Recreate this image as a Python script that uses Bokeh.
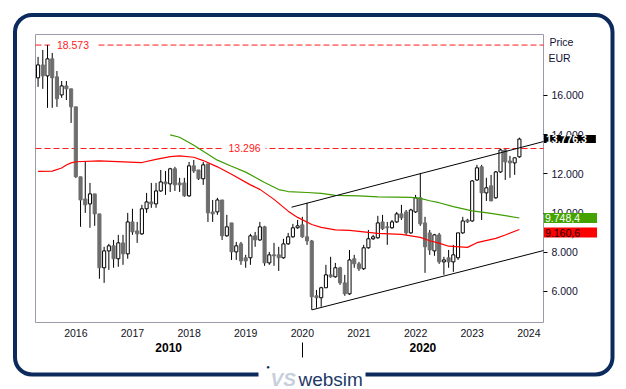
import pandas as pd
from bokeh.plotting import figure
from bokeh.models import (ColumnDataSource, FixedTicker, LinearAxis, Label,
                          BoxAnnotation, Range1d)
from bokeh.embed import file_html
from bokeh.resources import INLINE

# ---------------- data (monthly candles, EUR) ----------------
start_month = "2015-05"
opens = [16900, 17560, 17000, 17870, 16950, 16030, 16490, 16340, 15420, 11850,
         10720, 10470, 10980, 9960, 7210, 8070, 8330, 7670, 8480, 7920,
         9550, 9090, 8940, 10220, 10570, 10470, 11130, 11590, 11490, 12260,
         11540, 11540, 10880, 12410, 12200, 11750, 12510, 10060, 10060, 10670,
         8840, 9500, 8020, 8430, 7720, 7720, 8840, 8630, 9300, 7460,
         7870, 7870, 7720, 8430, 8790, 9250, 9400, 8790, 8580, 5780,
         5680, 6190, 6850, 6750, 7210, 6440, 5880, 7670, 7410, 7160,
         8230, 8690, 8740, 9550, 9300, 9250, 9550, 9960, 10060, 8990,
         10060, 10780, 9500, 8990, 8070, 8890, 7510, 7720, 7510, 7720,
         8990, 9650, 9600, 11690, 12360, 11030, 11390, 10780, 12100, 13220,
         12660, 12560, 12870]
highs = [17970, 18320, 18573, 18170, 17250, 16740, 16740, 16340, 15420, 11850,
         12610, 11540, 10980, 9960, 8280, 8430, 8630, 8890, 8890, 10010,
         10220, 9550, 10420, 11030, 11540, 11540, 12200, 12150, 12310, 12360,
         11800, 11800, 12610, 12710, 12200, 12610, 12510, 10670, 10780, 10670,
         9910, 9500, 8530, 8530, 7870, 8940, 9040, 9550, 9350, 8020,
         8480, 8280, 8690, 8990, 9450, 9650, 9810, 10520, 8630, 6080,
         6240, 7360, 7770, 7460, 7260, 6850, 8120, 7870, 7510, 8380,
         9140, 8890, 9860, 9910, 9550, 9650, 10060, 10420, 10160, 10220,
         10930, 12050, 9810, 9140, 8940, 8990, 7770, 8120, 8380, 8990,
         9810, 9710, 11690, 12460, 12460, 11800, 11950, 12150, 13280, 13280,
         12920, 12820, 13850]
lows = [16440, 16340, 15370, 15370, 15420, 15880, 15770, 14600, 11800, 9300,
        10010, 9250, 9350, 6650, 6440, 7100, 7210, 7260, 7360, 7670,
        8890, 8480, 8890, 10010, 10270, 10270, 11080, 10930, 11080, 11130,
        11080, 10830, 10830, 12050, 11690, 11440, 9550, 9550, 9910, 8630,
        8790, 7610, 7610, 7360, 7210, 7360, 8280, 8580, 7310, 7360,
        7310, 7050, 7670, 8380, 8740, 9200, 8740, 8380, 5064, 5170,
        5220, 6190, 6700, 6700, 6340, 5780, 5830, 7210, 7050, 7100,
        8180, 8630, 8690, 9140, 8380, 9200, 9500, 9650, 8890, 8940,
        10010, 9350, 6950, 7870, 7820, 7410, 6850, 7210, 7000, 7610,
        8940, 9500, 9550, 11640, 9650, 10620, 10620, 10730, 12050, 11690,
        11800, 11950, 12820]
closes = [17560, 17000, 17870, 16900, 15830, 16490, 16340, 15420, 11850, 10670,
          10420, 10980, 9960, 7210, 8070, 8330, 7670, 8480, 7920, 9550,
          9040, 8940, 10220, 10570, 10470, 11130, 11590, 11490, 12260, 11440,
          11440, 10880, 12410, 12150, 11750, 12460, 10010, 9960, 10670, 8840,
          9300, 8020, 8330, 7560, 7560, 8840, 8630, 9300, 7460, 7870,
          7820, 7720, 8430, 8790, 9250, 9350, 8790, 8580, 5730, 5680,
          6190, 6850, 6750, 7210, 6440, 5880, 7610, 7410, 7160, 8230,
          8690, 8790, 9500, 9200, 9250, 9550, 9960, 9760, 8990, 10160,
          10780, 9450, 8280, 8120, 8890, 7510, 7610, 7510, 7870, 8990,
          9600, 9550, 11640, 12310, 11030, 11290, 10620, 12100, 13220, 12610,
          12560, 12820, 13776.3]

red_ma_months = ["2015-05", "2015-08", "2015-10", "2015-11", "2015-12", "2016-01",
                 "2016-06", "2017-03", "2017-06", "2017-09", "2017-11", "2018-02",
                 "2018-04", "2018-07", "2018-10", "2019-02", "2019-04", "2019-07",
                 "2019-10", "2019-12", "2020-03", "2020-05", "2020-08", "2020-11",
                 "2021-05", "2021-10", "2022-02", "2022-04", "2022-06", "2022-08",
                 "2022-12", "2023-02", "2023-06", "2023-08", "2023-11"]
red_ma_values = [12130, 12140, 12300, 12450, 12560, 12620, 12660, 12580, 12740, 12880,
                 12920, 12850, 12680, 12360, 11980, 11440, 11210, 10700, 10100, 9780,
                 9420, 9270, 9140, 9120, 8970, 8910, 8760, 8590, 8470, 8310,
                 8250, 8490, 8710, 8880, 9160.6]

green_ma_months = ["2017-09", "2017-11", "2018-02", "2018-04", "2018-07", "2018-10",
                   "2019-01", "2019-03", "2019-05", "2019-08", "2019-10", "2020-02",
                   "2020-05", "2020-08", "2021-01", "2021-05", "2021-12", "2022-02",
                   "2022-04", "2022-06", "2022-09", "2023-01", "2023-05", "2023-11"]
green_ma_values = [13990, 13870, 13460, 13150, 12700, 12390, 12090, 11830, 11560, 11200,
                   11100, 11050, 11010, 10900, 10880, 10830, 10800, 10750, 10630, 10530,
                   10330, 10110, 9990, 9748.4]

channel_upper_x = [2019.81, 2024.26]
channel_upper_y = [10300, 13650]
channel_lower_x = [2020.17, 2024.26]
channel_lower_y = [5064, 8090]

max_level = 18573
resistance_level = 13296
last_price = 13776.3

year_ticks = [2016, 2017, 2018, 2019, 2020, 2021, 2022, 2023, 2024]
price_ticks = [6000, 8000, 10000, 12000, 14000, 16000]
price_tick_labels = ["6.000", "8.000", "10.000", "12.000", "14.000", "16.000"]
decade_labels = ["2010", "2020"]
decade_pos = [2017.64, 2022.13]
decade_divider = [2020.0]

# ---------------- layout constants (pixels) ----------------
W, H = 626, 389
FL, FR, FT, FB = 35, 543, 34, 322          # chart area in page pixels
x_lo, x_hi = 2015.288, 2024.259            # chart area in data units
y_lo, y_hi = 4418, 19112

ppx = (FR - FL) / (x_hi - x_lo)
ppy = (FB - FT) / (y_hi - y_lo)
x_start, x_end = x_lo - FL / ppx, x_hi + (W - FR) / ppx
y_start, y_end = y_lo - (H - FB) / ppy, y_hi + FT / ppy


def y_at(px):   # data value at a page pixel row
    return y_end - px / ppy


def to_year(m):
    p = pd.Period(m, freq="M")
    return p.year + (p.month - 1) / 12.0


months = pd.period_range(start_month, periods=len(opens), freq="M")
xs = [m.year + (m.month - 1) / 12.0 for m in months]

up = [c >= o for o, c in zip(opens, closes)]
src = ColumnDataSource(dict(
    x=xs, open=opens, high=highs, low=lows, close=closes,
    top=[max(o, c) for o, c in zip(opens, closes)],
    bottom=[min(o, c) for o, c in zip(opens, closes)],
    fill=["white" if u else "#6e6e6e" for u in up],
    line=["black" if u else "#6e6e6e" for u in up],
))

FONT = "Liberation Sans"
NAVY = "#0c2b5c"
TXT = "#111133"

p = figure(width=W, height=H, output_backend="svg", toolbar_location=None,
           x_range=Range1d(x_start, x_end), y_range=Range1d(y_start, y_end),
           x_axis_location=None, y_axis_location=None,
           min_border=0, min_border_left=0, min_border_right=0,
           min_border_top=0, min_border_bottom=0)
p.background_fill_color = "white"
p.border_fill_color = "white"
p.outline_line_color = None
p.grid.visible = False

# chart-area border
p.quad(left=[x_lo], right=[x_hi], bottom=[y_lo], top=[y_hi],
       fill_color=None, line_color="#9a9aab", line_width=1)

# dashed reference levels
p.segment(x0=[x_lo, x_lo], x1=[x_hi, x_hi], y0=[max_level, resistance_level],
          y1=[max_level, resistance_level], line_color="#ff1a1a", line_width=1,
          line_dash="6 3")

# candles
p.segment(x0="x", y0="low", x1="x", y1="high", source=src, line_color="black", line_width=1)
p.vbar(x="x", top="top", bottom="bottom", width=0.055, source=src,
       fill_color="fill", line_color="line", line_width=1)

# moving averages
p.line([to_year(m) for m in red_ma_months], red_ma_values, line_color="#ff0000", line_width=1.2)
p.line([to_year(m) for m in green_ma_months], green_ma_values, line_color="#3f9c00", line_width=1.2)

# channel
p.line(channel_upper_x, channel_upper_y, line_color="black", line_width=1)
p.line(channel_lower_x, channel_lower_y, line_color="black", line_width=1)

# level labels
p.add_layout(Label(x=2015.95, y=max_level, text="18.573", text_align="center",
                   text_baseline="middle", text_color="#ff2020", text_font=FONT,
                   text_font_size="10.5px", background_fill_color="white",
                   padding=dict(left=7, right=7, top=0, bottom=0)))
p.add_layout(Label(x=2018.98, y=resistance_level, text="13.296", text_align="center",
                   text_baseline="middle", text_color="#ff2020", text_font=FONT,
                   text_font_size="10.5px", background_fill_color="white",
                   padding=dict(left=5, right=5, top=0, bottom=0)))

# x axis (years)
xa = LinearAxis(ticker=FixedTicker(ticks=year_ticks), fixed_location=y_lo)
xa.major_label_overrides = {t: str(t) for t in year_ticks}
xa.axis_line_color = None
xa.major_tick_line_color = None
xa.major_tick_out = 0
xa.major_tick_in = 0
xa.minor_tick_line_color = None
xa.major_label_standoff = 6
xa.major_label_text_font = FONT
xa.major_label_text_font_size = "10.5px"
xa.major_label_text_color = "#111122"
p.add_layout(xa, "below")

# decade divider
xd = LinearAxis(ticker=FixedTicker(ticks=decade_divider), fixed_location=y_at(341.5))
xd.major_label_overrides = {t: " " for t in decade_divider}
xd.major_label_text_color = None
xd.axis_line_color = None
xd.major_tick_out = 15
xd.major_tick_in = 0
xd.major_tick_line_color = "black"
xd.minor_tick_line_color = None
p.add_layout(xd, "below")

# decade labels
xa2 = LinearAxis(ticker=FixedTicker(ticks=decade_pos), fixed_location=y_at(341.5))
xa2.major_label_overrides = {t: l for t, l in zip(decade_pos, decade_labels)}
xa2.axis_line_color = None
xa2.major_tick_line_color = None
xa2.major_tick_out = 0
xa2.major_tick_in = 0
xa2.minor_tick_line_color = None
xa2.major_label_standoff = 1
xa2.major_label_text_font = FONT
xa2.major_label_text_font_size = "12px"
xa2.major_label_text_font_style = "bold"
xa2.major_label_text_color = "black"
p.add_layout(xa2, "below")

# y axis (right)
ya = LinearAxis(ticker=FixedTicker(ticks=price_ticks), fixed_location=x_hi)
ya.major_label_overrides = {t: l for t, l in zip(price_ticks, price_tick_labels)}
ya.axis_line_color = None
ya.major_tick_out = 4
ya.major_tick_in = 0
ya.major_tick_line_color = "black"
ya.minor_tick_line_color = None
ya.major_label_standoff = 4
ya.major_label_text_font = FONT
ya.major_label_text_font_size = "10.5px"
ya.major_label_text_color = TXT
p.add_layout(ya, "right")

# axis captions (screen units: from bottom-left of the canvas)
p.add_layout(Label(x=549, y=H - 41, x_units="screen", y_units="screen", text="Price",
                   text_baseline="middle", text_font=FONT, text_font_size="10.5px",
                   text_color=TXT))
p.add_layout(Label(x=548, y=H - 57, x_units="screen", y_units="screen", text="EUR",
                   text_baseline="middle", text_font=FONT, text_font_size="10.5px",
                   text_color=TXT))

# value boxes
p.add_layout(Label(x=FR + 0.5, y=last_price, x_units="screen", text="13.776,3",
                   text_baseline="middle", text_font=FONT, text_font_size="10.5px",
                   text_font_style="bold", text_color="white", background_fill_color="black",
                   padding=dict(left=2, right=9, top=0, bottom=0)))
p.add_layout(Label(x=FR + 0.5, y=green_ma_values[-1], x_units="screen", text="9.748,4",
                   text_baseline="middle", text_font=FONT, text_font_size="10.5px",
                   text_color="white", background_fill_color="#44a300",
                   padding=dict(left=1, right=17, top=1, bottom=1)))
p.add_layout(Label(x=FR + 0.5, y=red_ma_values[-1], y_offset=-3, x_units="screen", text="9.160,6",
                   text_baseline="middle", text_font=FONT, text_font_size="10.5px",
                   text_color="#1a0a0a", background_fill_color="#ff0000",
                   padding=dict(left=1, right=17, top=1, bottom=1)))

# outer rounded frame
p.add_layout(BoxAnnotation(left=14.5, right=612, top=H - 14.5, bottom=H - 374,
                           left_units="screen", right_units="screen",
                           top_units="screen", bottom_units="screen",
                           fill_alpha=0, line_color=NAVY, line_alpha=1, line_width=4,
                           border_radius=17))
# logo gap + logo
p.add_layout(BoxAnnotation(left=258, right=365, top=H - 366, bottom=H - 382,
                           left_units="screen", right_units="screen",
                           top_units="screen", bottom_units="screen",
                           fill_color="white", fill_alpha=1, line_alpha=0))
p.add_layout(Label(x=267.5, y=H - 366, x_units="screen", y_units="screen", text="\u25cf",
                   text_align="center", text_baseline="middle", text_font=FONT,
                   text_font_size="6px", text_color=NAVY))
p.add_layout(Label(x=270, y=H - 379, x_units="screen", y_units="screen", text="VS",
                   text_baseline="alphabetic", text_font=FONT, text_font_size="19px",
                   text_font_style="bold italic", text_color="#c6d0dc"))
p.add_layout(Label(x=298, y=H - 379, x_units="screen", y_units="screen", text="websim",
                   text_baseline="alphabetic", text_font=FONT, text_font_size="19px",
                   text_color="#1e3a68"))

open("out.html", "w").write(file_html(p, INLINE))
